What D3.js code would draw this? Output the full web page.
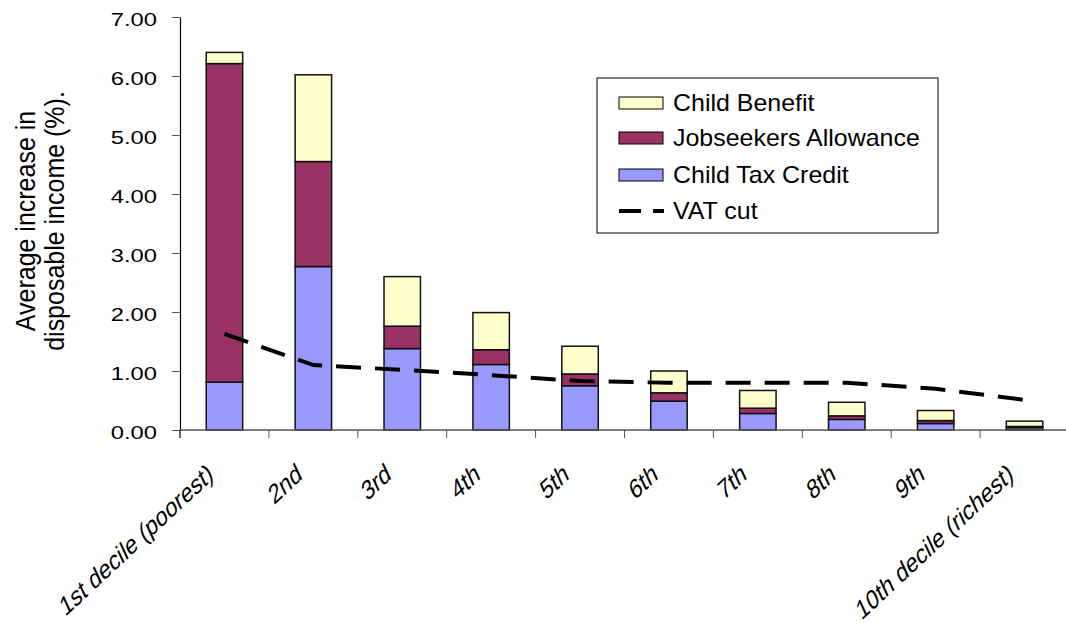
<!DOCTYPE html>
<html>
<head>
<meta charset="utf-8">
<script src="https://cdn.jsdelivr.net/npm/d3@7"></script>
<style>
  body { margin: 0; background: #fff; }
  svg text { font-family: "Liberation Sans", Arial, sans-serif; fill: #000; }
</style>
</head>
<body>
<div id="chart"></div>
<script>
// Decile groups along the x axis
const deciles = ["1st decile (poorest)", "2nd", "3rd", "4th", "5th", "6th", "7th", "8th", "9th", "10th decile (richest)"];

// Stacked components (percentage points)
const childTaxCredit = [0.81, 2.77, 1.38, 1.11, 0.75, 0.49, 0.28, 0.18, 0.11, 0.04];
const jobseekers = [5.40, 1.78, 0.38, 0.25, 0.20, 0.14, 0.09, 0.06, 0.05, 0.02];
const childBenefit = [0.19, 1.47, 0.84, 0.63, 0.47, 0.37, 0.30, 0.23, 0.17, 0.09];

// VAT cut line
const vatCut = [1.63, 1.10, 1.02, 0.93, 0.83, 0.80, 0.80, 0.80, 0.70, 0.51];

const yTicks = [0, 1, 2, 3, 4, 5, 6, 7];

const seriesNames = ["Child Tax Credit", "Jobseekers Allowance", "Child Benefit"];
const seriesColors = ["#9999ff", "#993366", "#ffffcc"];

const width = 1066, height = 628;
const margin = {left: 180, right: -3, top: 17, bottom: 198};

const svg = d3.select("#chart").append("svg")
  .attr("width", width)
  .attr("height", height);

const x = d3.scaleBand()
  .domain(deciles)
  .range([margin.left, width - margin.right])
  .paddingInner(0)
  .paddingOuter(0);

const y = d3.scaleLinear()
  .domain([0, 7])
  .range([height - margin.bottom, margin.top]);

// Build table for stacking
const table = deciles.map((d, i) => ({
  decile: d,
  "Child Tax Credit": childTaxCredit[i],
  "Jobseekers Allowance": jobseekers[i],
  "Child Benefit": childBenefit[i]
}));

const stacked = d3.stack().keys(seriesNames)(table);

const barW = x.bandwidth() * 0.41;

svg.append("g")
  .selectAll("g")
  .data(stacked)
  .join("g")
  .attr("fill", (d, i) => seriesColors[i])
  .selectAll("rect")
  .data(d => d)
  .join("rect")
  .attr("x", d => x(d.data.decile) + x.bandwidth() / 2 - barW / 2)
  .attr("y", d => y(d[1]))
  .attr("width", barW)
  .attr("height", d => y(d[0]) - y(d[1]))
  .attr("stroke", "#111")
  .attr("stroke-width", 1.5);

// Y axis (labels drawn separately, they are stretched sideways in the original)
const yAxis = svg.append("g")
  .attr("transform", `translate(${margin.left},0)`)
  .call(d3.axisLeft(y).tickValues(yTicks).tickFormat("").tickSize(8).tickSizeOuter(0));
yAxis.select(".domain").attr("stroke", "#000").attr("stroke-width", 1.2);
yAxis.selectAll(".tick line").attr("stroke", "#555").attr("stroke-width", 1);
yAxis.append("line")
  .attr("x1", 0).attr("x2", 0)
  .attr("y1", y(0)).attr("y2", y(0) + 8)
  .attr("stroke", "#000").attr("stroke-width", 1.2);

svg.append("g")
  .selectAll("text")
  .data(yTicks)
  .join("text")
  .attr("transform", d => `translate(157,${y(d) + 9}) scale(1.25,1)`)
  .attr("text-anchor", "end")
  .style("font-size", "19px")
  .text(d3.format(".2f"));

// X axis with ticks at band boundaries
const xAxisG = svg.append("g");
xAxisG.append("line")
  .attr("x1", margin.left).attr("x2", width)
  .attr("y1", y(0)).attr("y2", y(0))
  .attr("stroke", "#555").attr("stroke-width", 1.5);
xAxisG.selectAll("line.tk")
  .data(deciles.slice(1))
  .join("line")
  .attr("class", "tk")
  .attr("x1", d => x(d)).attr("x2", d => x(d))
  .attr("y1", y(0)).attr("y2", y(0) + 8)
  .attr("stroke", "#555").attr("stroke-width", 1);

// slanted, slightly sheared category labels
const ang = 43 * Math.PI / 180, up = 115 * Math.PI / 180, upScale = 1.05;
const mA = Math.cos(ang), mB = -Math.sin(ang);
const mC = -Math.cos(up) * upScale, mD = Math.sin(up) * upScale;
xAxisG.selectAll("text")
  .data(deciles)
  .join("text")
  .attr("transform", d => `translate(${x(d) + x.bandwidth() / 2 - 10},${y(0) + 48}) matrix(${mA},${mB},${mC},${mD},0,0)`)
  .attr("text-anchor", "end")
  .style("font-size", "24px")
  .text(d => d);

// VAT cut dashed line
const line = d3.line()
  .x((d, i) => x(deciles[i]) + x.bandwidth() / 2)
  .y(d => y(d));

svg.append("path")
  .datum(vatCut)
  .attr("d", line)
  .attr("fill", "none")
  .attr("stroke", "#000")
  .attr("stroke-width", 4)
  .attr("stroke-dasharray", "25,14");

// Y axis title
const titleLines = ["Average increase in", "disposable income (%)."];
const titleX = [35, 64];
svg.append("g")
  .selectAll("text")
  .data(titleLines)
  .join("text")
  .attr("transform", (d, i) => `translate(${titleX[i]},221) scale(1.08,1) rotate(-90)`)
  .attr("text-anchor", "middle")
  .style("font-size", "25px")
  .text(d => d);

// Legend
const legend = svg.append("g").attr("transform", "translate(597,78)");
legend.append("rect")
  .attr("width", 341).attr("height", 155)
  .attr("fill", "#fff").attr("stroke", "#000").attr("stroke-width", 1);

const legendItems = [
  {name: "Child Benefit", color: seriesColors[2]},
  {name: "Jobseekers Allowance", color: seriesColors[1]},
  {name: "Child Tax Credit", color: seriesColors[0]}
];
const rowY = [25, 60, 97, 133];

legendItems.forEach((it, i) => {
  legend.append("rect")
    .attr("x", 22).attr("y", rowY[i] - 6)
    .attr("width", 44).attr("height", 12)
    .attr("fill", it.color).attr("stroke", "#000").attr("stroke-width", 1);
  legend.append("text")
    .attr("transform", `translate(76,${rowY[i] + 8}) scale(1.04,1)`)
    .style("font-size", "24px")
    .text(it.name);
});
legend.append("line")
  .attr("x1", 22).attr("x2", 67)
  .attr("y1", rowY[3]).attr("y2", rowY[3])
  .attr("stroke", "#000").attr("stroke-width", 4)
  .attr("stroke-dasharray", "22,12");
legend.append("text")
  .attr("transform", `translate(76,${rowY[3] + 8}) scale(1.04,1)`)
  .style("font-size", "24px")
  .text("VAT cut");
</script>
</body>
</html>
